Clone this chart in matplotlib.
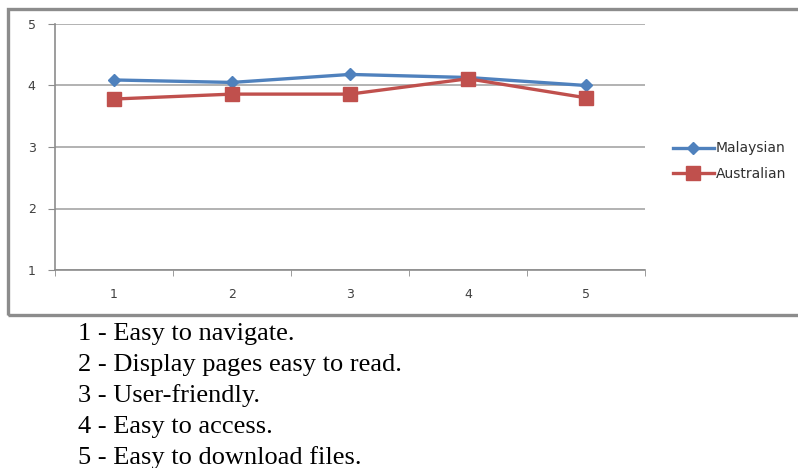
import matplotlib
matplotlib.use("Agg")
import matplotlib.pyplot as plt
from matplotlib.patches import Rectangle

categories = [1, 2, 3, 4, 5]
malaysian = [4.09, 4.05, 4.18, 4.13, 4.00]
australian = [3.78, 3.86, 3.86, 4.11, 3.80]
y_ticks = [1, 2, 3, 4, 5]
captions = [
    "1 - Easy to navigate.",
    "2 - Display pages easy to read.",
    "3 - User-friendly.",
    "4 - Easy to access.",
    "5 - Easy to download files.",
]

W, H = 798, 468
fig = plt.figure(figsize=(W / 100, H / 100), dpi=100)

# outer chart frame (runs off the right edge)
frame = Rectangle((8 / W, 1 - 315 / H), 1.0, (315 - 9) / H,
                  transform=fig.transFigure, fill=False,
                  edgecolor="#8c8c8c", linewidth=2.4, clip_on=False)
fig.patches.append(frame)

ax = fig.add_axes([55 / W, 1 - 270 / H, (645 - 55) / W, (270 - 24) / H])
ax.plot(categories, malaysian, color="#4f81bd", lw=2.4, marker="D",
        markersize=6.5, label="Malaysian", zorder=3)
ax.plot(categories, australian, color="#c0504d", lw=2.4, marker="s",
        markersize=9.5, label="Australian", zorder=3)

ax.set_xlim(0.5, 5.5)
ax.set_ylim(1, 5)
ax.set_yticks(y_ticks)
ax.set_xticks(categories)
ax.set_xticks([0.5, 1.5, 2.5, 3.5, 4.5, 5.5], minor=True)
ax.tick_params(axis="x", which="major", length=0, pad=13,
               labelsize=9, labelcolor="#404040")
ax.tick_params(axis="x", which="minor", length=4, color="#8c8c8c",
               direction="out")
ax.tick_params(axis="y", length=5, color="#8c8c8c", pad=9,
               labelsize=9, labelcolor="#404040")
ax.grid(axis="y", color="#a6a6a6", lw=1.2)
ax.set_axisbelow(True)
for s in ["top", "right"]:
    ax.spines[s].set_visible(False)
for s in ["left", "bottom"]:
    ax.spines[s].set_color("#8c8c8c")
    ax.spines[s].set_linewidth(1.2)

fig.legend(loc="center left", bbox_to_anchor=(660 / W, 1 - 161 / H),
           frameon=False, fontsize=10, handlelength=3.0, handletextpad=0.1,
           labelspacing=0.8, labelcolor="#303030")

for i, txt in enumerate(captions):
    fig.text(78 / W, 1 - (334 + 31 * i) / H, txt, family="Liberation Serif",
             fontsize=19, va="center", ha="left", color="black")

fig.savefig("out.png", dpi=100)
